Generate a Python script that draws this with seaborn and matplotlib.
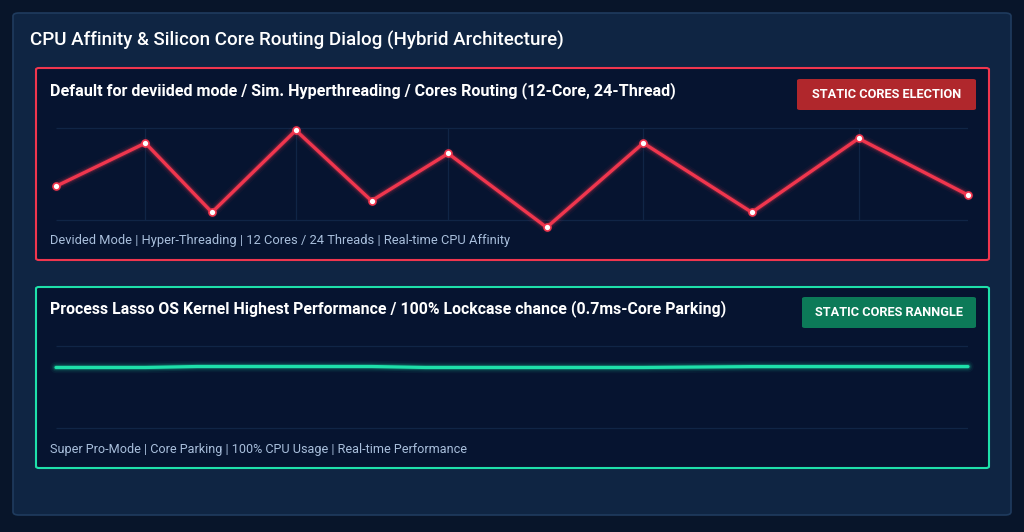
import matplotlib.pyplot as plt
import seaborn as sns
import pandas as pd
from matplotlib.patches import FancyBboxPatch

# data
title = 'CPU Affinity & Silicon Core Routing Dialog (Hybrid Architecture)'

top_title = 'Default for deviided mode / Sim. Hyperthreading / Cores Routing (12-Core, 24-Thread)'
top_badge = 'STATIC CORES ELECTION'
top_footer = 'Devided Mode | Hyper-Threading | 12 Cores / 24 Threads | Real-time CPU Affinity'
top_x = [0, 9.8, 17.1, 26.3, 34.6, 43.0, 53.8, 64.4, 76.3, 88.0, 100]
top_y = [39.6, 77, 17, 88, 27, 68, 4, 77, 17, 81, 32]

bottom_title = 'Process Lasso OS Kernel Highest Performance / 100% Lockcase chance (0.7ms-Core Parking)'
bottom_badge = 'STATIC CORES RANNGLE'
bottom_footer = 'Super Pro-Mode | Core Parking | 100% CPU Usage | Real-time Performance'
bottom_x = [0, 9.8, 15.5, 26.3, 34.6, 40.5, 53.8, 64.4, 76.3, 88.0, 100]
bottom_y = [73.8, 73.8, 75.0, 75.0, 75.0, 73.8, 73.8, 73.8, 74.9, 74.9, 74.9]

W, H = 1024, 532
BG = '#08152a'
PANEL = '#0f2543'
CARD = '#061430'
GRID = '#102546'
RED = '#f0364e'
TEAL = '#1ee0aa'

sns.set_theme(style='dark')
plt.rcParams['font.family'] = ['Roboto', 'DejaVu Sans']

fig = plt.figure(figsize=(W / 100, H / 100), dpi=100, facecolor=BG)


def box(x0, y0, x1, y1, face, edge, lw=1.0, r=4, z=0):
    # pixel coords from top-left
    p = FancyBboxPatch((x0 / W, 1 - y1 / H), (x1 - x0) / W, (y1 - y0) / H,
                       boxstyle='round,pad=0,rounding_size=%f' % (r / W),
                       transform=fig.transFigure, facecolor=face, edgecolor=edge,
                       linewidth=lw, zorder=z)
    fig.patches.append(p)


def text(x, y, s, **kw):
    fig.text(x / W, 1 - y / H, s, va='center', zorder=10, **kw)


def make_axes(x0, y0, x1, y1):
    ax = fig.add_axes([x0 / W, 1 - y1 / H, (x1 - x0) / W, (y1 - y0) / H])
    ax.set_zorder(5)
    ax.set_facecolor('none')
    for s in ax.spines.values():
        s.set_visible(False)
    ax.tick_params(length=0, labelbottom=False, labelleft=False)
    return ax


def glow_line(ax, df, color, lw, markers):
    for w, a in [(lw + 6, 0.05), (lw + 3.5, 0.1), (lw + 1.5, 0.22)]:
        ax.plot(df['x'], df['y'], color=color, lw=w, alpha=a,
                solid_capstyle='round', clip_on=False)
    sns.lineplot(data=df, x='x', y='y', ax=ax, color=color, lw=lw,
                 marker='o' if markers else None, markersize=5,
                 markerfacecolor='white', markeredgecolor=color,
                 markeredgewidth=1.2, clip_on=False)
    ax.set_xlabel('')
    ax.set_ylabel('')


# outer panel
box(13, 13, 1011, 515, PANEL, '#1f3b5e', lw=1.2, r=6)
text(30, 40, title, color='white', fontsize=13.5, fontweight='medium')

# top card
box(36, 68, 989, 260, CARD, RED, lw=1.5, r=3, z=1)
text(50, 91, top_title, color='white', fontsize=11.6, fontweight='bold')
box(797, 79, 976, 110, '#b0272c', 'none', r=3, z=2)
text(886.5, 95, top_badge, color='white', fontsize=9.2, fontweight='bold', ha='center')
text(50, 241, top_footer, color='#a9bfdc', fontsize=9.3)

ax1 = make_axes(56, 118, 968, 232)
ax1.set_xlim(0, 100)
ax1.set_ylim(0, 98.7)
ax1.set_xticks([])
ax1.set_yticks([])
ax1.hlines([10, 90], 0, 100, color=GRID, lw=0.9, zorder=0)
ax1.vlines(top_x[1:-1:2], 10, 90, color=GRID, lw=0.9, zorder=0)
df1 = pd.DataFrame({'x': top_x, 'y': top_y})
glow_line(ax1, df1, RED, 2.4, True)

# bottom card
box(36, 287, 989, 468, CARD, TEAL, lw=1.5, r=3, z=1)
text(50, 309, bottom_title, color='white', fontsize=11.4, fontweight='bold')
box(802, 297, 976, 328, '#0c7a58', 'none', r=3, z=2)
text(889, 313, bottom_badge, color='white', fontsize=9.2, fontweight='bold', ha='center')
text(50, 450, bottom_footer, color='#a9bfdc', fontsize=9.1)

ax2 = make_axes(56, 340, 968, 434)
ax2.set_xlim(0, 100)
ax2.set_ylim(-7.3, 107.3)
ax2.set_xticks([])
ax2.set_yticks([])
ax2.hlines([0, 100], 0, 100, color=GRID, lw=0.9, zorder=0)
df2 = pd.DataFrame({'x': bottom_x, 'y': bottom_y})
glow_line(ax2, df2, TEAL, 2.3, False)

fig.savefig('out.png', dpi=100, facecolor=BG)
